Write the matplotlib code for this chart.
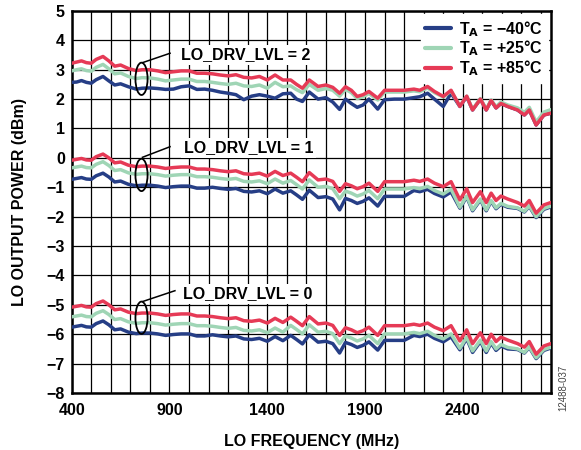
import matplotlib
matplotlib.use("Agg")
import matplotlib.pyplot as plt
from matplotlib.patches import Ellipse

plt.rcParams['font.family'] = ['Liberation Sans', 'DejaVu Sans']
plt.rcParams['font.weight'] = 'bold'

freq = [400, 425, 450, 475, 500, 525, 560, 590, 620, 650, 690, 730, 760, 800, 840, 880, 920, 960,
        1000, 1040, 1080, 1120, 1160, 1200, 1240, 1280, 1320, 1360, 1400, 1440, 1480, 1520, 1550,
        1580, 1615, 1660, 1700, 1735, 1770, 1800, 1830, 1860, 1890, 1920, 1965, 2000, 2050, 2100,
        2150, 2180, 2220, 2255, 2300, 2340, 2385, 2420, 2450, 2490, 2520, 2545, 2570, 2595, 2630,
        2680, 2715, 2740, 2775, 2815, 2850]

l2_red = [3.22, 3.26, 3.30, 3.24, 3.22, 3.35, 3.45, 3.30, 3.12, 3.16, 3.04, 2.97, 3.00, 3.00, 2.96,
          2.90, 2.93, 2.96, 2.96, 2.88, 2.88, 2.86, 2.82, 2.79, 2.83, 2.74, 2.72, 2.77, 2.65, 2.82,
          2.65, 2.65, 2.50, 2.37, 2.65, 2.43, 2.48, 2.40, 2.20, 2.42, 2.30, 2.09, 2.15, 2.26, 2.03,
          2.30, 2.30, 2.30, 2.34, 2.30, 2.43, 2.26, 2.09, 2.30, 1.75, 2.10, 1.63, 2.00, 1.63, 1.95,
          1.70, 1.85, 1.75, 1.63, 1.46, 1.63, 1.12, 1.46, 1.52]
l2_green = [2.96, 3.00, 3.03, 2.97, 2.95, 3.08, 3.18, 3.03, 2.86, 2.89, 2.77, 2.70, 2.73, 2.72, 2.68,
            2.62, 2.65, 2.68, 2.68, 2.60, 2.60, 2.57, 2.53, 2.50, 2.54, 2.45, 2.43, 2.48, 2.37, 2.57,
            2.42, 2.45, 2.32, 2.22, 2.50, 2.30, 2.36, 2.30, 2.10, 2.33, 2.22, 2.02, 2.08, 2.19, 1.97,
            2.24, 2.24, 2.24, 2.28, 2.25, 2.38, 2.22, 2.07, 2.28, 1.77, 2.10, 1.65, 2.02, 1.66, 1.97,
            1.74, 1.90, 1.80, 1.70, 1.55, 1.72, 1.22, 1.56, 1.64]
l2_blue = [2.57, 2.58, 2.63, 2.57, 2.54, 2.66, 2.77, 2.62, 2.48, 2.52, 2.42, 2.34, 2.37, 2.38, 2.36,
           2.33, 2.34, 2.42, 2.45, 2.33, 2.34, 2.30, 2.24, 2.20, 2.15, 1.98, 2.10, 2.15, 2.10, 2.03,
           2.18, 2.20, 2.00, 1.92, 2.24, 2.00, 2.05, 1.90, 1.65, 2.00, 1.85, 1.72, 1.80, 2.00, 1.66,
           1.98, 2.00, 2.00, 2.05, 2.08, 2.20, 2.00, 1.75, 2.20, 1.75, 2.08, 1.63, 2.00, 1.63, 1.95,
           1.70, 1.85, 1.75, 1.63, 1.46, 1.63, 1.12, 1.46, 1.52]

l1_red = [-0.08, -0.05, -0.02, -0.07, -0.08, 0.04, 0.13, 0.00, -0.17, -0.14, -0.25, -0.30, -0.28,
          -0.28, -0.31, -0.36, -0.33, -0.31, -0.31, -0.38, -0.38, -0.40, -0.44, -0.47, -0.44, -0.54,
          -0.56, -0.52, -0.62, -0.46, -0.60, -0.52, -0.66, -0.81, -0.50, -0.75, -0.72, -0.80, -1.14,
          -0.88, -0.95, -1.05, -0.98, -0.86, -1.14, -0.81, -0.81, -0.81, -0.76, -0.80, -0.72, -0.86,
          -0.98, -0.81, -1.43, -1.05, -1.52, -1.15, -1.52, -1.20, -1.45, -1.30, -1.40, -1.52, -1.64,
          -1.45, -1.88, -1.60, -1.52]
l1_green = [-0.34, -0.31, -0.28, -0.33, -0.34, -0.22, -0.13, -0.26, -0.43, -0.40, -0.51, -0.56, -0.54,
            -0.54, -0.57, -0.62, -0.59, -0.57, -0.57, -0.64, -0.64, -0.66, -0.70, -0.73, -0.70, -0.80,
            -0.82, -0.78, -0.88, -0.72, -0.86, -0.77, -0.91, -1.06, -0.75, -1.00, -0.97, -1.05, -1.39,
            -1.13, -1.20, -1.30, -1.23, -1.11, -1.39, -1.06, -1.06, -1.06, -1.01, -1.05, -0.97, -1.11,
            -1.23, -1.06, -1.68, -1.30, -1.77, -1.40, -1.77, -1.45, -1.70, -1.55, -1.65, -1.70, -1.82,
            -1.63, -2.00, -1.72, -1.64]
l1_blue = [-0.73, -0.70, -0.67, -0.72, -0.73, -0.61, -0.52, -0.65, -0.82, -0.79, -0.90, -0.95, -0.93,
           -0.93, -0.96, -1.01, -0.98, -0.96, -0.96, -1.03, -1.03, -1.00, -1.04, -1.07, -1.04, -1.14,
           -1.16, -1.12, -1.22, -1.06, -1.20, -1.12, -1.26, -1.41, -1.10, -1.35, -1.32, -1.40, -1.77,
           -1.38, -1.45, -1.55, -1.48, -1.36, -1.64, -1.31, -1.31, -1.31, -1.11, -1.15, -1.07, -1.21,
           -1.33, -1.16, -1.71, -1.33, -1.80, -1.43, -1.80, -1.48, -1.73, -1.58, -1.68, -1.72, -1.84,
           -1.65, -2.03, -1.75, -1.67]

l0_red = [-5.08, -5.05, -5.02, -5.07, -5.08, -4.96, -4.87, -5.00, -5.17, -5.14, -5.25, -5.30, -5.28,
          -5.28, -5.31, -5.36, -5.33, -5.31, -5.31, -5.38, -5.38, -5.40, -5.44, -5.47, -5.44, -5.54,
          -5.56, -5.52, -5.62, -5.46, -5.60, -5.42, -5.56, -5.71, -5.40, -5.65, -5.62, -5.70, -6.04,
          -5.78, -5.85, -5.95, -5.88, -5.76, -6.04, -5.71, -5.71, -5.71, -5.66, -5.70, -5.62, -5.76,
          -5.88, -5.71, -6.23, -5.85, -6.32, -5.95, -6.32, -6.00, -6.25, -6.10, -6.20, -6.32, -6.44,
          -6.25, -6.68, -6.40, -6.32]
l0_green = [-5.41, -5.38, -5.35, -5.40, -5.41, -5.29, -5.20, -5.33, -5.50, -5.47, -5.58, -5.63, -5.61,
            -5.61, -5.64, -5.69, -5.66, -5.64, -5.64, -5.71, -5.71, -5.73, -5.77, -5.80, -5.77, -5.87,
            -5.89, -5.85, -5.95, -5.79, -5.93, -5.70, -5.84, -5.99, -5.68, -5.93, -5.90, -5.98, -6.32,
            -6.06, -6.13, -6.23, -6.16, -6.04, -6.32, -5.99, -5.99, -5.99, -5.94, -5.98, -5.90, -6.04,
            -6.16, -5.99, -6.48, -6.10, -6.57, -6.20, -6.57, -6.25, -6.50, -6.35, -6.45, -6.50, -6.62,
            -6.43, -6.80, -6.52, -6.44]
l0_blue = [-5.76, -5.73, -5.70, -5.75, -5.76, -5.64, -5.55, -5.68, -5.85, -5.82, -5.93, -5.98, -5.96,
           -5.96, -5.99, -6.04, -6.01, -5.99, -5.99, -6.06, -6.06, -6.02, -6.06, -6.09, -6.06, -6.16,
           -6.18, -6.14, -6.24, -6.08, -6.22, -6.04, -6.18, -6.33, -6.02, -6.27, -6.24, -6.32, -6.64,
           -6.28, -6.35, -6.45, -6.38, -6.26, -6.54, -6.21, -6.21, -6.21, -6.04, -6.08, -6.00, -6.14,
           -6.26, -6.09, -6.53, -6.15, -6.62, -6.25, -6.62, -6.30, -6.55, -6.40, -6.50, -6.52, -6.64,
           -6.45, -6.83, -6.55, -6.47]

legend_labels = ["T$_\\mathbf{A}$ = \u221240\u00b0C", "T$_\\mathbf{A}$ = +25\u00b0C", "T$_\\mathbf{A}$ = +85\u00b0C"]
level_labels = ["LO_DRV_LVL = 2", "LO_DRV_LVL = 1", "LO_DRV_LVL = 0"]
xtick_vals = [400, 900, 1400, 1900, 2400]
ytick_vals = list(range(-8, 6))

c_blue = "#263e86"
c_green = "#9fd5b5"
c_red = "#e63a56"

fig = plt.figure(figsize=(5.81, 4.5), dpi=100)
ax = fig.add_axes([0.1234, 0.1267, 0.8246, 0.849])

lw = 2.5
levels = [(l2_blue, l2_green, l2_red), (l1_blue, l1_green, l1_red), (l0_blue, l0_green, l0_red)]
for i, (b, g, r) in enumerate(levels):
    for vals, col, lab in ((b, c_blue, legend_labels[0]), (g, c_green, legend_labels[1]),
                           (r, c_red, legend_labels[2])):
        ax.plot(freq, vals, color=col, lw=lw, zorder=3, solid_joinstyle='round',
                solid_capstyle='round', label=lab if i == 0 else None)

ax.set_xlim(400, 2850)
ax.set_ylim(-8, 5)
ax.set_xticks(xtick_vals)
ax.set_yticks(ytick_vals)
ax.set_xticks(list(range(500, 2850, 100)), minor=True)
ax.grid(True, which='both', color='black', lw=0.9, zorder=1)
ax.set_axisbelow(True)
ax.tick_params(which='both', length=0, labelsize=11.5)
ax.tick_params(axis='x', pad=7)
ax.tick_params(axis='y', pad=5)
for lab in ax.get_xticklabels() + ax.get_yticklabels():
    lab.set_fontweight('bold')
for s in ax.spines.values():
    s.set_linewidth(1.8)

ax.set_xlabel("LO FREQUENCY (MHz)", fontsize=11.5, fontweight='bold', labelpad=12)
ax.set_ylabel("LO OUTPUT POWER (dBm)", fontsize=11.5, fontweight='bold', labelpad=14)

leg = ax.legend(loc='upper right', frameon=True, fontsize=11.5, handlelength=1.6,
                handletextpad=0.5, labelspacing=0.0, borderpad=0.3, borderaxespad=0.2,
                fancybox=False)
leg.get_frame().set_edgecolor('white')
leg.get_frame().set_facecolor('white')
leg.get_frame().set_alpha(1)
for t in leg.get_texts():
    t.set_fontweight('bold')
for h in leg.legend_handles:
    h.set_linewidth(3)

ell_centers = [2.69, -0.58, -5.44]
line_starts = [3.24, 0.02, -4.89]
line_ends = [(903, 3.56), (903, 0.38), (928, -4.52)]
text_pos = [(960, 3.50), (975, 0.34), (970, -4.63)]
for k in range(3):
    ax.add_patch(Ellipse((757, ell_centers[k]), 62, 1.1, fill=False, ec='black', lw=1.3, zorder=5))
    ax.plot([762, line_ends[k][0]], [line_starts[k], line_ends[k][1]], color='black', lw=1.1, zorder=5)
    ax.text(text_pos[k][0], text_pos[k][1], level_labels[k], fontsize=11.5, fontweight='bold',
            ha='left', va='center', zorder=6,
            bbox=dict(facecolor='white', edgecolor='none', pad=2))

fig.text(0.97, 0.138, "12488-037", rotation=90, fontsize=7, color='#444444', ha='center', va='center',
         fontweight='normal')

fig.savefig("out.png", dpi=100)
